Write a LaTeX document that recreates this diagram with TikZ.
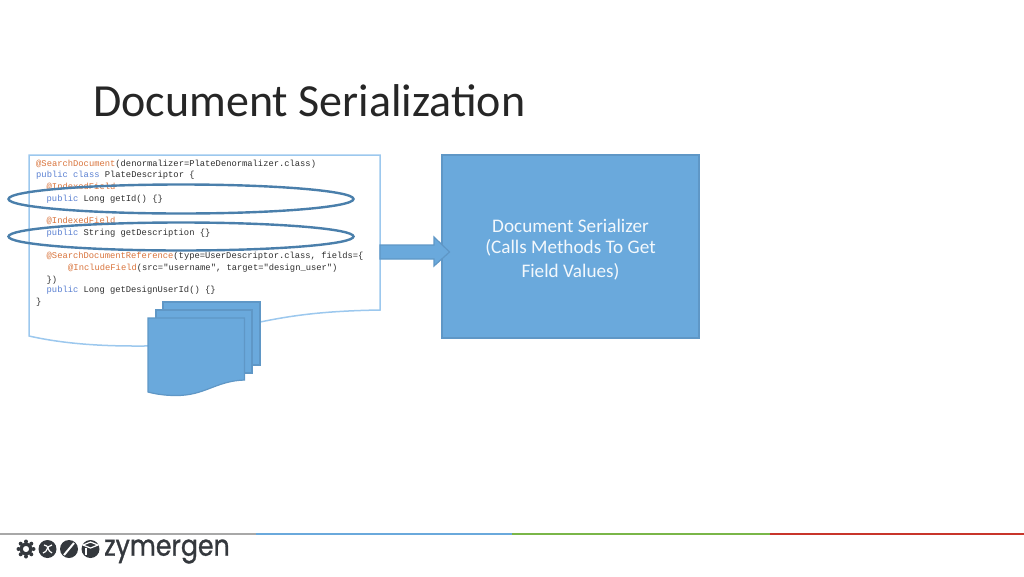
\documentclass[tikz,border=0pt]{standalone}
\usepackage{fontspec}
\setmainfont{Carlito}
\setmonofont{Liberation Mono}
\newfontfamily\logofont[FakeBold=1.2]{Poppins}
\definecolor{boxfill}{HTML}{6AA9DC}
\definecolor{boxedge}{HTML}{5F97C6}
\definecolor{docedge}{HTML}{9CC8EE}
\definecolor{ringedge}{HTML}{4A7FAB}
\definecolor{annot}{HTML}{D9743C}
\definecolor{kw}{HTML}{5A80D2}
\definecolor{codetxt}{HTML}{2E2E2E}
\definecolor{logoink}{HTML}{34383D}
\definecolor{rulegray}{HTML}{A8A8A8}
\definecolor{ruleblue}{HTML}{6AA9DC}
\definecolor{rulegreen}{HTML}{7AB648}
\definecolor{rulered}{HTML}{C8352B}
\newcommand{\an}[1]{\textcolor{annot}{#1}}
\newcommand{\kwd}[1]{\textcolor{kw}{#1}}
\tikzset{
  codeline/.style={anchor=west,inner sep=0pt,font=\ttfamily\fontsize{8.8}{10}\selectfont,text=codetxt},
  ring/.style={draw=ringedge,line width=2.4pt,ellipse,fill=none},
  sheet/.style={draw=boxedge,line width=1.2pt,fill=boxfill},
  logodisc/.style={fill=logoink,draw=none},
  logocut/.style={draw=white,line width=1.2pt},
  sertext/.style={inner sep=0pt,font=\fontsize{19.2}{22}\selectfont,text=white!92!boxfill},
}
\usetikzlibrary{shapes.geometric}
\begin{document}
\begin{tikzpicture}[x=1pt,y=-1pt]
\useasboundingbox (0,0) rectangle (1024,576);
\node[anchor=west,inner sep=0pt,font=\fontsize{46}{52}\selectfont,text=black!85] (title) at (93,101) {Document Serialization};
% code document
\draw[draw=docedge,line width=1.5pt,fill=white] (29,155) -- (380,155) -- (380,310)
  .. controls (320,311) and (290,316) .. (260,322)
  .. controls (220,330) and (190,347) .. (135,346)
  .. controls (95,346) and (60,343) .. (29,336) -- cycle;
\node[codeline] (c1) at (36,164) {\an{@SearchDocument}(denormalizer=PlateDenormalizer.class)};
\node[codeline] (c2) at (36,175) {\kwd{public class} PlateDescriptor \{};
\node[codeline] (c3) at (46.5,187) {\an{@IndexedField}};
\node[codeline] (c4) at (46.5,199) {\kwd{public} Long getId() \{\}};
\node[codeline] (c5) at (46.5,221) {\an{@IndexedField}};
\node[codeline] (c6) at (46.5,233) {\kwd{public} String getDescription \{\}};
\node[codeline] (c7) at (46.5,256) {\an{@SearchDocumentReference}(type=UserDescriptor.class, fields=\{};
\node[codeline] (c8) at (68,268) {\an{@IncludeField}(src="username", target="design\_user")};
\node[codeline] (c9) at (46.5,280) {\})};
\node[codeline] (c10) at (46.5,290) {\kwd{public} Long getDesignUserId() \{\}};
\node[codeline] (c11) at (36,302) {\}};
% rings
\node[ring,minimum width=345pt,minimum height=29pt,inner sep=0pt] (r1) at (181,199) {};
\node[ring,minimum width=345pt,minimum height=28pt,inner sep=0pt] (r2) at (181,236.5) {};
% stacked sheets
\draw[sheet] (163,302) rectangle (260,365);
\draw[sheet] (156,310) rectangle (252,373);
\draw[sheet] (148,318) -- (244.5,318) -- (244.5,380)
  .. controls (215,381) and (205,396) .. (175,395.5)
  .. controls (165,395.5) and (155,394) .. (148,392) -- cycle;
% serializer
\node[draw=boxedge,line width=1.2pt,fill=boxfill,minimum width=257pt,minimum height=183pt,inner sep=0pt] (ser) at (570.5,246.5) {};
\node[sertext] (s1) at (570.5,225.5) {Document Serializer};
\node[sertext] (s2) at (570.5,247.5) {(Calls Methods To Get};
\node[sertext] (s3) at (570.5,271.5) {Field Values)};
% block arrow
\draw[sheet] (380,245) -- (434,245) -- (434,237) -- (449.5,252) -- (434,266) -- (434,259) -- (380,259) -- cycle;
% footer rules
\fill[rulegray] (0,532.5) rectangle (256,534.5);
\fill[ruleblue] (256,532.5) rectangle (512,534.5);
\fill[rulegreen] (512,532.5) rectangle (770,534.5);
\fill[rulered] (770,532.5) rectangle (1024,534.5);
% logo
\foreach \a in {0,45,...,315} {
  \fill[logoink] (26,549) ++(\a:7.5) circle (2);
}
\draw[logoink,line width=3.4pt] (26,549) circle (5);
\fill[logodisc] (47.5,549) circle (9);
\draw[logocut] (43,553) .. controls (48,552) and (46,546) .. (52,545);
\draw[logocut] (44,545) .. controls (49,545) and (47,551) .. (52,553);
\fill[logodisc] (69,549) circle (9);
\draw[white,line width=2pt] (64,555) -- (74,543);
\fill[logodisc] (90.5,549) circle (9);
\draw[logocut] (83,545) -- (90.5,542) -- (98,545) -- (90.5,548) -- cycle;
\draw[logocut] (86,548) -- (86,555);
\node[anchor=west,inner sep=0pt,xscale=0.87,font=\logofont\fontsize{29}{30}\selectfont,text=logoink] (logo) at (104,551.5) {zymergen};
\end{tikzpicture}
\end{document}
